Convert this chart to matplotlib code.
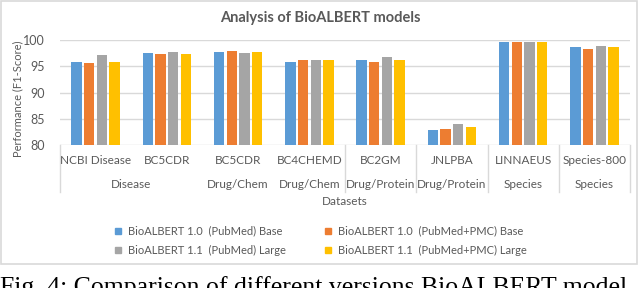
import matplotlib.pyplot as plt
from matplotlib.patches import Rectangle
import matplotlib.transforms as mtransforms
import numpy as np

plt.rcParams['font.family'] = ['Lato', 'DejaVu Sans']

# --- Data (F1-score) ---
datasets = ['NCBI Disease', 'BC5CDR', 'BC5CDR', 'BC4CHEMD', 'BC2GM', 'JNLPBA', 'LINNAEUS', 'Species-800']
entity_types = ['Disease', 'Drug/Chem', 'Drug/Chem', 'Drug/Protein', 'Drug/Protein', 'Species', 'Species']
# span (first, last category index) for each entity type label
entity_spans = [(0, 1), (2, 2), (3, 3), (4, 4), (5, 5), (6, 6), (7, 7)]

models = ['BioALBERT 1.0  (PubMed) Base', 'BioALBERT 1.0  (PubMed+PMC) Base',
          'BioALBERT 1.1  (PubMed) Large', 'BioALBERT 1.1  (PubMed+PMC) Large']
v10_pubmed_base = [95.9, 97.6, 97.8, 95.9, 96.2, 82.8, 99.6, 98.7]
v10_pmc_base = [95.6, 97.4, 98.0, 96.2, 95.9, 83.1, 99.6, 98.3]
v11_pubmed_large = [97.1, 97.8, 97.5, 96.2, 96.8, 84.0, 99.6, 98.9]
v11_pmc_large = [95.9, 97.4, 97.8, 96.2, 96.2, 83.5, 99.6, 98.7]
series = [v10_pubmed_base, v10_pmc_base, v11_pubmed_large, v11_pmc_large]
colors = ['#5B9BD5', '#ED7D31', '#A5A5A5', '#FFC000']

W, H = 640, 288
txt = '#595959'
grid = '#D9D9D9'

fig = plt.figure(figsize=(W / 100, H / 100), dpi=100)

def fx(px):
    return px / W

def fy(py):
    return 1 - py / H

# outer chart frame
fig.patches.append(Rectangle((fx(1), fy(264)), fx(637) - fx(1), fy(1) - fy(264),
                             transform=fig.transFigure, fill=False,
                             edgecolor=grid, linewidth=1.2))

ax = fig.add_axes([fx(60), fy(145), fx(630) - fx(60), fy(40) - fy(145)])

x = np.arange(len(datasets))
step = 0.178
width = 0.145
for i, (vals, c) in enumerate(zip(series, colors)):
    ax.bar(x + (i - 1.5) * step, vals, width, color=c, label=models[i], zorder=3)

ax.set_xlim(-0.5, len(datasets) - 0.5)
ax.set_ylim(80, 100)
ax.set_yticks([80, 85, 90, 95, 100])
ax.yaxis.grid(True, color=grid, linewidth=1, zorder=0)
for s in ax.spines.values():
    s.set_visible(False)
ax.tick_params(axis='y', length=0, pad=11, labelsize=9, labelcolor=txt)
ax.set_xticks([])

trans = mtransforms.blended_transform_factory(ax.transData, ax.transAxes)

# inner category labels
for xi, name in zip(x, datasets):
    ax.text(xi, -0.152, name, transform=trans, ha='center', va='center',
            fontsize=8.5, color=txt)

# outer group labels
for name, (a, b) in zip(entity_types, entity_spans):
    ax.text((a + b) / 2, -0.38, name, transform=trans, ha='center', va='center',
            fontsize=8.5, color=txt)

# separator lines in the label area
for bx in [-0.5, 3.5, 4.5, 5.5, 6.5, 7.5]:
    ax.plot([bx, bx], [0, -0.45], transform=trans, color=grid, linewidth=1,
            clip_on=False)

ax.text(0.5, -0.535, 'Datasets', transform=ax.transAxes, ha='center', va='center',
        fontsize=8.5, color=txt)
fig.text(fx(18), fy(99), 'Performance (F1-Score)', rotation=90, ha='center',
         va='center', fontsize=8, color=txt)
fig.text(fx(320), fy(18), 'Analysis of BioALBERT models', ha='center', va='center',
         fontsize=10.5, fontweight='bold', color=txt)

# legend (2 columns)
leg_pos = [(118, 231), (328, 231), (118, 250), (328, 250)]
for (lx, ly), name, c in zip(leg_pos, models, colors):
    fig.patches.append(Rectangle((fx(lx - 3), fy(ly + 3)), fx(6), 6 / H,
                                 transform=fig.transFigure, color=c))
    fig.text(fx(lx + 10), fy(ly), name, ha='left', va='center', fontsize=8,
             color=txt)

# caption below the chart (cut off by the image edge)
fig.text(fx(0), fy(276), 'Fig. 4: Comparison of different versions BioALBERT model',
         ha='left', va='top', fontsize=18.5, family='Liberation Serif', color='black')

fig.savefig('out.png', dpi=100)
